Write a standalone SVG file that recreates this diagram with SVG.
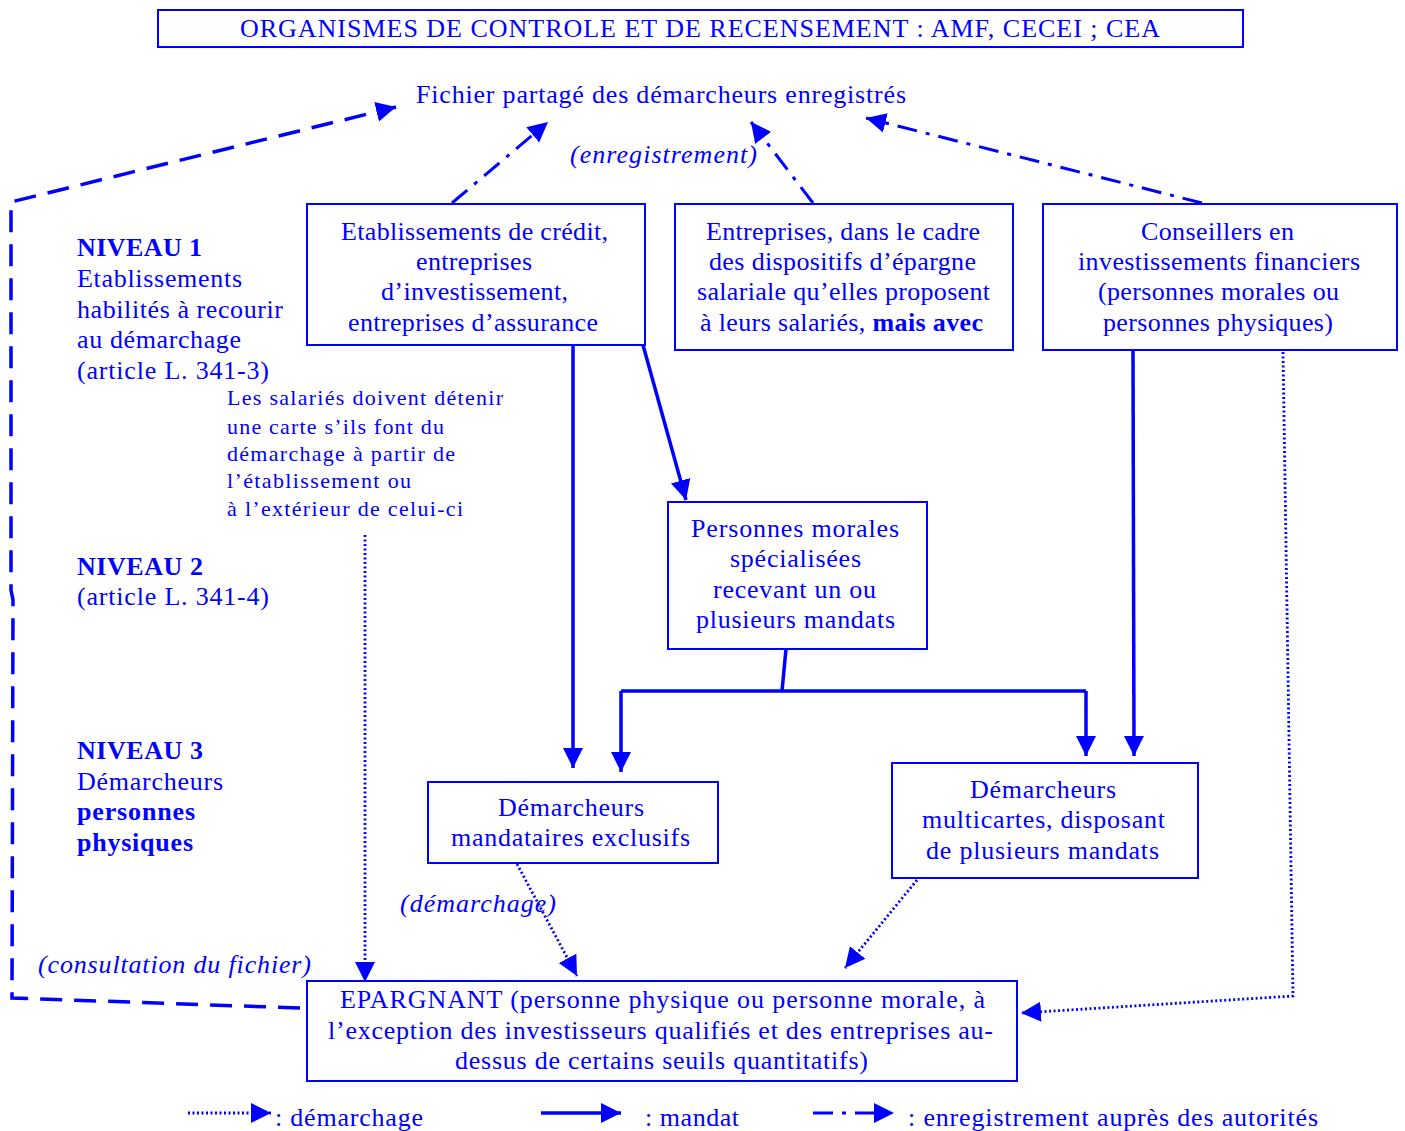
<svg xmlns="http://www.w3.org/2000/svg" width="1405" height="1131" viewBox="0 0 1405 1131">
<defs>
<marker id="ah" markerUnits="userSpaceOnUse" markerWidth="22" markerHeight="22" viewBox="0 0 22 22" refX="20" refY="11" orient="auto">
<path d="M0,1 L20,11 L0,21 Z" fill="#0000FF"/>
</marker>
<style>
text{font-family:"Liberation Serif","Times New Roman",serif;fill:#0000FF;font-size:26px}
.b{font-weight:bold}
.i{font-style:italic}
.s{font-size:22px}
.box{fill:#FFFFFF;stroke:#0000FF;stroke-width:2}
.solid{fill:none;stroke:#0000FF;stroke-width:3.5}
.dash{fill:none;stroke:#0000FF;stroke-width:3.5;stroke-dasharray:22 12}
.dd{fill:none;stroke:#0000FF;stroke-width:3;stroke-dasharray:20 9 4 9}
.dot{fill:none;stroke:#0000FF;stroke-width:2.8;stroke-dasharray:2 2.5}
</style>
</defs>
<rect width="1405" height="1131" fill="#FFFFFF"/>

<g id="connectors">
<path class="dash" d="M300,1008 L12,998 L13,600 L11,590 L11,202 L396,107" marker-end="url(#ah)"/>
<path class="dd" d="M452,203 L548,122" marker-end="url(#ah)"/>
<path class="dd" d="M813,203 L751,122" marker-end="url(#ah)"/>
<path class="dd" d="M1202,203 L866,118" marker-end="url(#ah)"/>
<path class="solid" d="M573,345 L573,768" marker-end="url(#ah)"/>
<path class="solid" d="M643,345 L686,500" marker-end="url(#ah)"/>
<path class="solid" d="M786,649 L782,691"/>
<path class="solid" d="M621,691 L1086,691"/>
<path class="solid" d="M621,691 L621,772" marker-end="url(#ah)"/>
<path class="solid" d="M1086,691 L1086,756" marker-end="url(#ah)"/>
<path class="solid" d="M1133,350 L1134,756" marker-end="url(#ah)"/>
<path class="dot" d="M365,535 L365,982" marker-end="url(#ah)"/>
<path class="dot" d="M517,864 L577,976" marker-end="url(#ah)"/>
<path class="dot" d="M917,880 L845,968" marker-end="url(#ah)"/>
<path class="dot" d="M1283,352 L1293,996 L1021,1013" marker-end="url(#ah)"/>
</g>

<g id="header">
<rect class="box" x="158" y="10" width="1085" height="37"/>
<text x="240" y="37" textLength="920" lengthAdjust="spacing">ORGANISMES DE CONTROLE ET DE RECENSEMENT : AMF, CECEI ; CEA</text>
</g>

<g id="fichier">
<text x="416" y="103" textLength="490" lengthAdjust="spacing">Fichier partagé des démarcheurs enregistrés</text>
</g>

<g id="lbl-enregistrement"><text class="i" x="570" y="163" textLength="187" lengthAdjust="spacing">(enregistrement)</text></g>

<g id="box-etablissements">
<rect class="box" x="307" y="204" width="338" height="141"/>
<text x="341" y="240" textLength="267" lengthAdjust="spacing">Etablissements de crédit,</text>
<text x="416" y="270" textLength="116" lengthAdjust="spacing">entreprises</text>
<text x="381" y="300" textLength="187" lengthAdjust="spacing">d’investissement,</text>
<text x="348" y="331" textLength="250" lengthAdjust="spacing">entreprises d’assurance</text>
</g>

<g id="box-entreprises">
<rect class="box" x="675" y="204" width="338" height="146"/>
<text x="706" y="240" textLength="274" lengthAdjust="spacing">Entreprises, dans le cadre</text>
<text x="709" y="270" textLength="267" lengthAdjust="spacing">des dispositifs d’épargne</text>
<text x="697" y="300" textLength="293" lengthAdjust="spacing">salariale qu’elles proposent</text>
<text x="700" y="331" textLength="283" lengthAdjust="spacing">à leurs salariés, <tspan class="b">mais avec</tspan></text>
</g>

<g id="box-conseillers">
<rect class="box" x="1043" y="204" width="354" height="146"/>
<text x="1141" y="240" textLength="153" lengthAdjust="spacing">Conseillers en</text>
<text x="1078" y="270" textLength="282" lengthAdjust="spacing">investissements financiers</text>
<text x="1098" y="300" textLength="241" lengthAdjust="spacing">(personnes morales ou</text>
<text x="1103" y="331" textLength="230" lengthAdjust="spacing">personnes physiques)</text>
</g>

<g id="niveau1">
<text class="b" x="77" y="256" textLength="125" lengthAdjust="spacing">NIVEAU 1</text>
<text x="77" y="287" textLength="165" lengthAdjust="spacing">Etablissements</text>
<text x="77" y="318" textLength="206" lengthAdjust="spacing">habilités à recourir</text>
<text x="77" y="348" textLength="164" lengthAdjust="spacing">au démarchage</text>
<text x="77" y="379" textLength="192" lengthAdjust="spacing">(article L. 341-3)</text>
</g>

<g id="note-salaries">
<text class="s" x="227" y="405" textLength="276" lengthAdjust="spacing">Les salariés doivent détenir</text>
<text class="s" x="227" y="434" textLength="217" lengthAdjust="spacing">une carte s’ils font du</text>
<text class="s" x="227" y="461" textLength="228" lengthAdjust="spacing">démarchage à partir de</text>
<text class="s" x="227" y="488" textLength="184" lengthAdjust="spacing">l’établissement ou</text>
<text class="s" x="227" y="516" textLength="236" lengthAdjust="spacing">à l’extérieur de celui-ci</text>
</g>

<g id="niveau2">
<text class="b" x="77" y="575" textLength="126" lengthAdjust="spacing">NIVEAU 2</text>
<text x="77" y="605" textLength="192" lengthAdjust="spacing">(article L. 341-4)</text>
</g>

<g id="box-personnes-morales">
<rect class="box" x="668" y="502" width="259" height="147"/>
<text x="691" y="537" textLength="208" lengthAdjust="spacing">Personnes morales</text>
<text x="730" y="567" textLength="131" lengthAdjust="spacing">spécialisées</text>
<text x="713" y="598" textLength="163" lengthAdjust="spacing">recevant un ou</text>
<text x="696" y="628" textLength="199" lengthAdjust="spacing">plusieurs mandats</text>
</g>

<g id="niveau3">
<text class="b" x="77" y="759" textLength="126" lengthAdjust="spacing">NIVEAU 3</text>
<text x="77" y="790" textLength="146" lengthAdjust="spacing">Démarcheurs</text>
<text class="b" x="77" y="820" textLength="118" lengthAdjust="spacing">personnes</text>
<text class="b" x="77" y="851" textLength="116" lengthAdjust="spacing">physiques</text>
</g>

<g id="box-exclusifs">
<rect class="box" x="428" y="782" width="290" height="81"/>
<text x="498" y="816" textLength="146" lengthAdjust="spacing">Démarcheurs</text>
<text x="451" y="846" textLength="239" lengthAdjust="spacing">mandataires exclusifs</text>
</g>

<g id="box-multicartes">
<rect class="box" x="892" y="763" width="306" height="115"/>
<text x="970" y="798" textLength="146" lengthAdjust="spacing">Démarcheurs</text>
<text x="922" y="828" textLength="243" lengthAdjust="spacing">multicartes, disposant</text>
<text x="926" y="859" textLength="233" lengthAdjust="spacing">de plusieurs mandats</text>
</g>

<g id="lbl-demarchage"><text class="i" x="400" y="912" textLength="156" lengthAdjust="spacing">(démarchage)</text></g>
<g id="lbl-consultation"><text class="i" x="38" y="973" textLength="273" lengthAdjust="spacing">(consultation du fichier)</text></g>

<g id="box-epargnant">
<rect class="box" x="307" y="981" width="710" height="100"/>
<text x="340" y="1008" textLength="645" lengthAdjust="spacing">EPARGNANT (personne physique ou personne morale, à</text>
<text x="328" y="1039" textLength="665" lengthAdjust="spacing">l’exception des investisseurs qualifiés et des entreprises au-</text>
<text x="455" y="1069" textLength="413" lengthAdjust="spacing">dessus de certains seuils quantitatifs)</text>
</g>

<g id="legend">
<path class="dot" d="M188,1113 L271,1113" marker-end="url(#ah)"/>
<text x="275" y="1126" textLength="148" lengthAdjust="spacing">: démarchage</text>
<path class="solid" d="M541,1113 L621,1113" marker-end="url(#ah)"/>
<text x="645" y="1126" textLength="94" lengthAdjust="spacing">: mandat</text>
<path class="dd" d="M813,1113 L894,1113" marker-end="url(#ah)"/>
<text x="908" y="1126" textLength="410" lengthAdjust="spacing">: enregistrement auprès des autorités</text>
</g>
</svg>
